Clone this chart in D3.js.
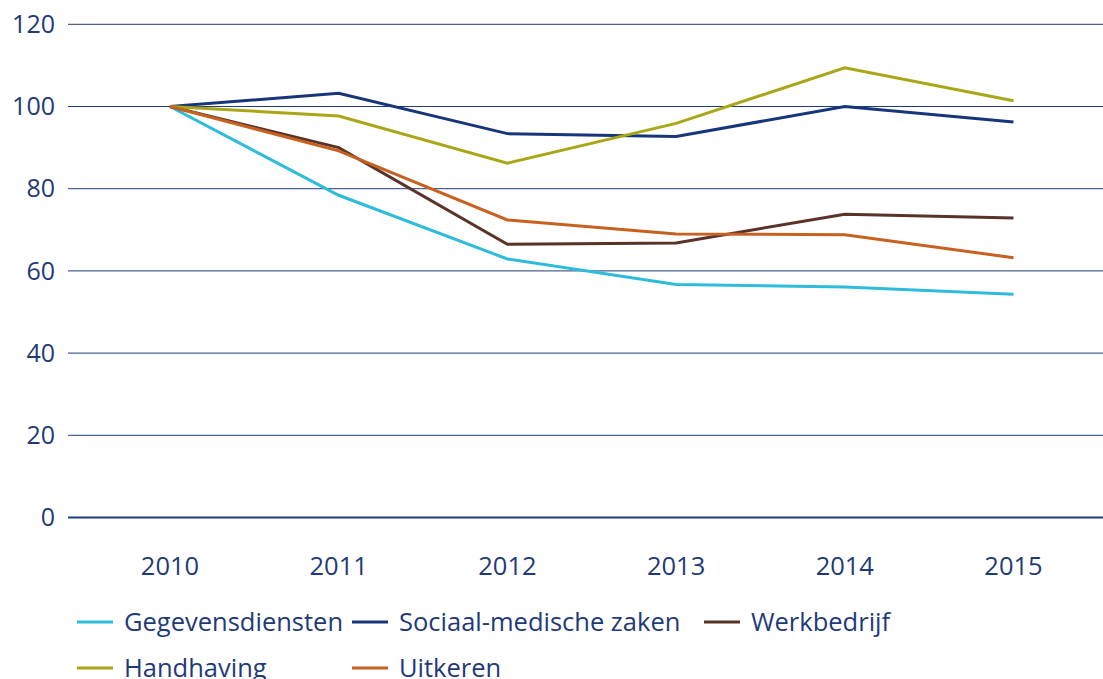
<!DOCTYPE html>
<html>
<head>
<meta charset="utf-8">
<script src="https://cdn.jsdelivr.net/npm/d3@7"></script>
<style>
  body { margin: 0; background: #fff; }
  text { font-family: "Open Sans", sans-serif; fill: #1f3a78; }
</style>
</head>
<body>
<div id="chart"></div>
<script>
var W = 1103, H = 679;

var years = ["2010", "2011", "2012", "2013", "2014", "2015"];
var yTicks = [0, 20, 40, 60, 80, 100, 120];

var gegevensdiensten = [100, 78.4, 62.9, 56.7, 56.1, 54.3];
var sociaalMedisch = [100, 103.2, 93.4, 92.7, 100, 96.2];
var werkbedrijf = [100, 90.0, 66.5, 66.8, 73.8, 72.9];
var handhaving = [100, 97.7, 86.2, 95.9, 109.4, 101.4];
var uitkeren = [100, 89.2, 72.4, 69.0, 68.8, 63.2];

var seriesNames = ["Gegevensdiensten", "Sociaal-medische zaken", "Werkbedrijf", "Handhaving", "Uitkeren"];
var seriesValues = [gegevensdiensten, sociaalMedisch, werkbedrijf, handhaving, uitkeren];
var colors = ["#2dbcd9", "#17367a", "#5a3328", "#a9a717", "#c8601f"];

var series = seriesNames.map(function(n, i) {
  return { name: n, values: seriesValues[i], color: colors[i] };
});

var svg = d3.select("#chart").append("svg")
  .attr("width", W)
  .attr("height", H);

var x = d3.scalePoint().domain(years).range([170, 1013.5]);
var y = d3.scaleLinear().domain([0, 120]).range([517.5, 24.3]);

// gridlines
svg.append("g")
  .selectAll("line")
  .data(yTicks)
  .join("line")
  .attr("x1", 68)
  .attr("x2", W)
  .attr("y1", d => y(d))
  .attr("y2", d => y(d))
  .style("stroke", "#1f3a78")
  .style("stroke-width", d => d === 0 ? 2 : 1);

// y labels
svg.append("g")
  .selectAll("text")
  .data(yTicks)
  .join("text")
  .attr("x", 55)
  .attr("y", d => y(d))
  .attr("dy", "0.35em")
  .attr("text-anchor", "end")
  .style("font-size", "25px")
  .text(d => d);

// x labels
svg.append("g")
  .selectAll("text")
  .data(years)
  .join("text")
  .attr("x", d => x(d))
  .attr("y", 566)
  .attr("dy", "0.35em")
  .attr("text-anchor", "middle")
  .style("font-size", "25.5px")
  .text(d => d);

var line = d3.line()
  .x((d, i) => x(years[i]))
  .y(d => y(d));

svg.append("g")
  .selectAll("path")
  .data(series)
  .join("path")
  .attr("d", d => line(d.values))
  .style("fill", "none")
  .style("stroke", d => d.color)
  .style("stroke-width", 3);

// legend
var legPos = [[77, 622], [352, 622], [704, 622], [77, 668], [352, 668]];
var leg = svg.append("g")
  .selectAll("g")
  .data(series)
  .join("g")
  .attr("transform", (d, i) => "translate(" + legPos[i][0] + "," + legPos[i][1] + ")");

leg.append("line")
  .attr("x1", 0)
  .attr("x2", 36)
  .style("stroke", d => d.color)
  .style("stroke-width", 3);

leg.append("text")
  .attr("x", 47)
  .attr("dy", "0.35em")
  .style("font-size", "25.5px")
  .text(d => d.name);
</script>
</body>
</html>
